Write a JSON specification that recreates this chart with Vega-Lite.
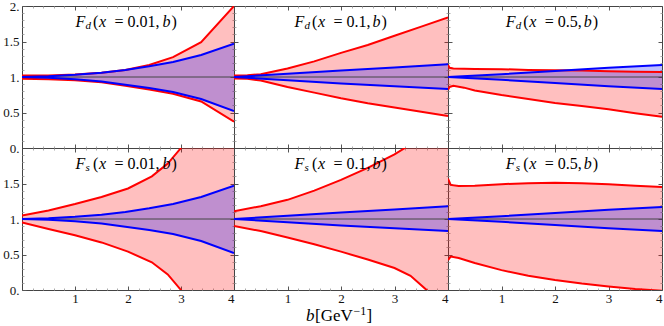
{
"$schema":"https://vega.github.io/schema/vega-lite/v6.json",
"padding":{"left":2,"top":0,"right":0,"bottom":0},
"background":"white",
"config":{"view":{"stroke":null},"axis":{"grid":false,"domainColor":"#444","domainWidth":1,"tickColor":"#555","tickWidth":1,"labelFont":"Liberation Serif","labelFontSize":13,"labelColor":"#111"},"text":{"font":"Liberation Serif","color":"#000"}},
"datasets":{"bands":[
{"p":"d1","band":"red","b":0,"lo":0.975,"hi":1.02},{"p":"d1","band":"red","b":0.5,"lo":0.97,"hi":1.022},{"p":"d1","band":"red","b":1,"lo":0.955,"hi":1.035},{"p":"d1","band":"red","b":1.5,"lo":0.925,"hi":1.06},{"p":"d1","band":"red","b":1.95,"lo":0.875,"hi":1.1},{"p":"d1","band":"red","b":2.4,"lo":0.825,"hi":1.17},{"p":"d1","band":"red","b":2.85,"lo":0.765,"hi":1.28},{"p":"d1","band":"red","b":3.38,"lo":0.655,"hi":1.49},{"p":"d1","band":"red","b":4,"lo":0.37,"hi":2.0},
{"p":"d1","band":"blue","b":0,"lo":1,"hi":1},{"p":"d1","band":"blue","b":0.5,"lo":0.99,"hi":1.01},{"p":"d1","band":"blue","b":1,"lo":0.97,"hi":1.03},{"p":"d1","band":"blue","b":1.5,"lo":0.935,"hi":1.06},{"p":"d1","band":"blue","b":1.95,"lo":0.89,"hi":1.1},{"p":"d1","band":"blue","b":2.4,"lo":0.845,"hi":1.15},{"p":"d1","band":"blue","b":2.85,"lo":0.79,"hi":1.21},{"p":"d1","band":"blue","b":3.38,"lo":0.69,"hi":1.31},{"p":"d1","band":"blue","b":4,"lo":0.52,"hi":1.47},
{"p":"d2","band":"red","b":0,"lo":0.98,"hi":1.02},{"p":"d2","band":"red","b":0.25,"lo":0.975,"hi":1.025},{"p":"d2","band":"red","b":0.5,"lo":0.95,"hi":1.04},{"p":"d2","band":"red","b":1,"lo":0.86,"hi":1.12},{"p":"d2","band":"red","b":1.5,"lo":0.78,"hi":1.22},{"p":"d2","band":"red","b":2,"lo":0.7,"hi":1.34},{"p":"d2","band":"red","b":2.5,"lo":0.63,"hi":1.45},{"p":"d2","band":"red","b":3,"lo":0.57,"hi":1.58},{"p":"d2","band":"red","b":3.5,"lo":0.51,"hi":1.71},{"p":"d2","band":"red","b":4,"lo":0.45,"hi":1.84},
{"p":"d2","band":"blue","b":0,"lo":1,"hi":1},{"p":"d2","band":"blue","b":1,"lo":0.955,"hi":1.045},{"p":"d2","band":"blue","b":2,"lo":0.91,"hi":1.09},{"p":"d2","band":"blue","b":3,"lo":0.87,"hi":1.135},{"p":"d2","band":"blue","b":4,"lo":0.83,"hi":1.18},
{"p":"d3","band":"red","b":0,"lo":0.82,"hi":1.17},{"p":"d3","band":"red","b":0.03,"lo":0.86,"hi":1.13},{"p":"d3","band":"red","b":0.1,"lo":0.875,"hi":1.12},{"p":"d3","band":"red","b":0.3,"lo":0.85,"hi":1.115},{"p":"d3","band":"red","b":0.5,"lo":0.81,"hi":1.113},{"p":"d3","band":"red","b":1,"lo":0.745,"hi":1.11},{"p":"d3","band":"red","b":1.5,"lo":0.69,"hi":1.1},{"p":"d3","band":"red","b":2,"lo":0.635,"hi":1.095},{"p":"d3","band":"red","b":2.5,"lo":0.59,"hi":1.09},{"p":"d3","band":"red","b":3,"lo":0.545,"hi":1.08},{"p":"d3","band":"red","b":3.5,"lo":0.49,"hi":1.075},{"p":"d3","band":"red","b":4,"lo":0.44,"hi":1.07},
{"p":"d3","band":"blue","b":0,"lo":1,"hi":1},{"p":"d3","band":"blue","b":1,"lo":0.96,"hi":1.04},{"p":"d3","band":"blue","b":2,"lo":0.915,"hi":1.085},{"p":"d3","band":"blue","b":3,"lo":0.87,"hi":1.13},{"p":"d3","band":"blue","b":4,"lo":0.83,"hi":1.17},
{"p":"s1","band":"red","b":0,"lo":0.95,"hi":1.05},{"p":"s1","band":"red","b":0.5,"lo":0.86,"hi":1.12},{"p":"s1","band":"red","b":1,"lo":0.77,"hi":1.21},{"p":"s1","band":"red","b":1.5,"lo":0.67,"hi":1.31},{"p":"s1","band":"red","b":2,"lo":0.54,"hi":1.43},{"p":"s1","band":"red","b":2.45,"lo":0.39,"hi":1.6},{"p":"s1","band":"red","b":2.75,"lo":0.22,"hi":1.78},{"p":"s1","band":"red","b":3,"lo":0,"hi":2.0},{"p":"s1","band":"red","b":3.5,"lo":-0.5,"hi":2.5},{"p":"s1","band":"red","b":4,"lo":-1,"hi":3},
{"p":"s1","band":"blue","b":0,"lo":1,"hi":1},{"p":"s1","band":"blue","b":0.5,"lo":0.99,"hi":1.01},{"p":"s1","band":"blue","b":1,"lo":0.97,"hi":1.03},{"p":"s1","band":"blue","b":1.5,"lo":0.935,"hi":1.06},{"p":"s1","band":"blue","b":1.95,"lo":0.89,"hi":1.1},{"p":"s1","band":"blue","b":2.4,"lo":0.845,"hi":1.15},{"p":"s1","band":"blue","b":2.85,"lo":0.79,"hi":1.21},{"p":"s1","band":"blue","b":3.38,"lo":0.69,"hi":1.31},{"p":"s1","band":"blue","b":4,"lo":0.52,"hi":1.47},
{"p":"s2","band":"red","b":0,"lo":0.9,"hi":1.11},{"p":"s2","band":"red","b":0.5,"lo":0.83,"hi":1.18},{"p":"s2","band":"red","b":1,"lo":0.74,"hi":1.27},{"p":"s2","band":"red","b":1.5,"lo":0.645,"hi":1.4},{"p":"s2","band":"red","b":2,"lo":0.54,"hi":1.55},{"p":"s2","band":"red","b":2.5,"lo":0.43,"hi":1.72},{"p":"s2","band":"red","b":3,"lo":0.31,"hi":1.91},{"p":"s2","band":"red","b":3.3,"lo":0.2,"hi":2.05},{"p":"s2","band":"red","b":3.6,"lo":0,"hi":2.2},{"p":"s2","band":"red","b":4,"lo":-0.35,"hi":2.4},
{"p":"s2","band":"blue","b":0,"lo":1,"hi":1},{"p":"s2","band":"blue","b":1,"lo":0.955,"hi":1.045},{"p":"s2","band":"blue","b":2,"lo":0.91,"hi":1.09},{"p":"s2","band":"blue","b":3,"lo":0.87,"hi":1.135},{"p":"s2","band":"blue","b":4,"lo":0.83,"hi":1.18},
{"p":"s3","band":"red","b":0,"lo":0.42,"hi":1.57},{"p":"s3","band":"red","b":0.05,"lo":0.47,"hi":1.48},{"p":"s3","band":"red","b":0.2,"lo":0.45,"hi":1.465},{"p":"s3","band":"red","b":0.5,"lo":0.38,"hi":1.47},{"p":"s3","band":"red","b":1,"lo":0.28,"hi":1.49},{"p":"s3","band":"red","b":1.5,"lo":0.2,"hi":1.505},{"p":"s3","band":"red","b":2,"lo":0.14,"hi":1.51},{"p":"s3","band":"red","b":2.5,"lo":0.09,"hi":1.505},{"p":"s3","band":"red","b":3,"lo":0.05,"hi":1.49},{"p":"s3","band":"red","b":3.5,"lo":0.015,"hi":1.47},{"p":"s3","band":"red","b":4,"lo":-0.01,"hi":1.45},
{"p":"s3","band":"blue","b":0,"lo":1,"hi":1},{"p":"s3","band":"blue","b":1,"lo":0.96,"hi":1.04},{"p":"s3","band":"blue","b":2,"lo":0.915,"hi":1.085},{"p":"s3","band":"blue","b":3,"lo":0.87,"hi":1.13},{"p":"s3","band":"blue","b":4,"lo":0.83,"hi":1.17}
]},
"columns":3,
"spacing":0,
"bounds":"flush",
"concat":[
{"width":212,"height":142,"data":{"name":"bands"},"transform":[{"filter":"datum.p == 'd1'"}],"resolve":{"axis":{"x":"independent","y":"independent"}},
"layer":[
{"transform":[{"filter":"datum.band == 'red'"}],"mark":{"type":"area","color":"#ff0000","opacity":0.25,"clip":true},"encoding":{"x":{"field":"b","type":"quantitative","scale":{"domain":[0,4]},"axis":{"orient":"bottom","values":[1,2,3,4],"tickSize":-4,"labels":false,"title":null}},"y":{"field":"lo","type":"quantitative","scale":{"domain":[0,2]},"axis":{"orient":"left","values":[0,0.5,1,1.5,2],"tickSize":-4,"labelPadding":7,"labelExpr":"datum.value % 1 == 0 ? datum.value + '.' : datum.label","title":null}},"y2":{"field":"hi"}}},
{"transform":[{"filter":"datum.band == 'blue'"}],"mark":{"type":"area","color":"#0000ff","opacity":0.25,"clip":true},"encoding":{"x":{"field":"b","type":"quantitative","axis":{"orient":"top","values":[1,2,3,4],"tickSize":-4,"labels":false,"title":null}},"y":{"field":"lo","type":"quantitative","axis":{"orient":"right","values":[0.5,1,1.5],"tickSize":-4,"labels":false,"title":null}},"y2":{"field":"hi"}}},
{"data":{"values":[{"v":1}]},"mark":{"type":"rule","color":"#444","strokeWidth":1},"encoding":{"y":{"field":"v","type":"quantitative","axis":null}}},
{"transform":[{"filter":"datum.band == 'red'"}],"mark":{"type":"line","color":"#ff0000","strokeWidth":2,"clip":true},"encoding":{"x":{"field":"b","type":"quantitative","axis":{"orient":"bottom","values":[0.2,0.4,0.6,0.8,1.2,1.4,1.6,1.8,2.2,2.4,2.6,2.8,3.2,3.4,3.6,3.8],"tickSize":-2,"labels":false,"domain":false,"tickColor":"#aaa","title":null}},"y":{"field":"lo","type":"quantitative","axis":{"orient":"left","values":[0.1,0.2,0.3,0.4,0.6,0.7,0.8,0.9,1.1,1.2,1.3,1.4,1.6,1.7,1.8,1.9],"tickSize":-2,"labels":false,"domain":false,"tickColor":"#aaa","title":null}}}},
{"transform":[{"filter":"datum.band == 'red'"}],"mark":{"type":"line","color":"#ff0000","strokeWidth":2,"clip":true},"encoding":{"x":{"field":"b","type":"quantitative","axis":{"orient":"top","values":[0.2,0.4,0.6,0.8,1.2,1.4,1.6,1.8,2.2,2.4,2.6,2.8,3.2,3.4,3.6,3.8],"tickSize":-2,"labels":false,"domain":false,"tickColor":"#aaa","title":null}},"y":{"field":"hi","type":"quantitative","axis":{"orient":"right","values":[0.1,0.2,0.3,0.4,0.6,0.7,0.8,0.9,1.1,1.2,1.3,1.4,1.6,1.7,1.8,1.9],"tickSize":-2,"labels":false,"domain":false,"tickColor":"#aaa","title":null}}}},
{"transform":[{"filter":"datum.band == 'blue'"}],"mark":{"type":"line","color":"#0000ff","strokeWidth":2,"clip":true},"encoding":{"x":{"field":"b","type":"quantitative","axis":null},"y":{"field":"lo","type":"quantitative","axis":null}}},
{"transform":[{"filter":"datum.band == 'blue'"}],"mark":{"type":"line","color":"#0000ff","strokeWidth":2,"clip":true},"encoding":{"x":{"field":"b","type":"quantitative","axis":null},"y":{"field":"hi","type":"quantitative","axis":null}}},
{"data":{"values":[{}]},"mark":{"type":"text","text":"F","fontSize":16,"fontStyle":"italic","align":"left","baseline":"alphabetic"},"encoding":{"x":{"datum":1.01,"type":"quantitative","axis":null},"y":{"datum":1.71,"type":"quantitative","axis":null}}},
{"data":{"values":[{}]},"mark":{"type":"text","text":"d","fontSize":11,"fontStyle":"italic","align":"left","baseline":"alphabetic","dx":10,"dy":2.5},"encoding":{"x":{"datum":1.01,"type":"quantitative","axis":null},"y":{"datum":1.71,"type":"quantitative","axis":null}}},
{"data":{"values":[{}]},"mark":{"type":"text","text":"(","fontSize":16,"align":"left","baseline":"alphabetic","dx":17.5},"encoding":{"x":{"datum":1.01,"type":"quantitative","axis":null},"y":{"datum":1.71,"type":"quantitative","axis":null}}},
{"data":{"values":[{}]},"mark":{"type":"text","text":"x","fontSize":16,"fontStyle":"italic","align":"left","baseline":"alphabetic","dx":23.5},"encoding":{"x":{"datum":1.01,"type":"quantitative","axis":null},"y":{"datum":1.71,"type":"quantitative","axis":null}}},
{"data":{"values":[{}]},"mark":{"type":"text","text":"= 0.01,","fontSize":16,"align":"left","baseline":"alphabetic","dx":39},"encoding":{"x":{"datum":1.01,"type":"quantitative","axis":null},"y":{"datum":1.71,"type":"quantitative","axis":null}}},
{"data":{"values":[{}]},"mark":{"type":"text","text":"b","fontSize":16,"fontStyle":"italic","align":"left","baseline":"alphabetic","dx":87},"encoding":{"x":{"datum":1.01,"type":"quantitative","axis":null},"y":{"datum":1.71,"type":"quantitative","axis":null}}},
{"data":{"values":[{}]},"mark":{"type":"text","text":")","fontSize":16,"align":"left","baseline":"alphabetic","dx":96},"encoding":{"x":{"datum":1.01,"type":"quantitative","axis":null},"y":{"datum":1.71,"type":"quantitative","axis":null}}}
]},
{"width":214,"height":142,"data":{"name":"bands"},"transform":[{"filter":"datum.p == 'd2'"}],"resolve":{"axis":{"x":"independent","y":"independent"}},
"layer":[
{"transform":[{"filter":"datum.band == 'red'"}],"mark":{"type":"area","color":"#ff0000","opacity":0.25,"clip":true},"encoding":{"x":{"field":"b","type":"quantitative","scale":{"domain":[0,4]},"axis":{"orient":"bottom","values":[1,2,3,4],"tickSize":-4,"labels":false,"title":null}},"y":{"field":"lo","type":"quantitative","scale":{"domain":[0,2]},"axis":{"orient":"left","values":[0.5,1,1.5],"tickSize":-4,"labels":false,"title":null}},"y2":{"field":"hi"}}},
{"transform":[{"filter":"datum.band == 'blue'"}],"mark":{"type":"area","color":"#0000ff","opacity":0.25,"clip":true},"encoding":{"x":{"field":"b","type":"quantitative","axis":{"orient":"top","values":[1,2,3,4],"tickSize":-4,"labels":false,"title":null}},"y":{"field":"lo","type":"quantitative","axis":{"orient":"right","values":[0.5,1,1.5],"tickSize":-4,"labels":false,"title":null}},"y2":{"field":"hi"}}},
{"data":{"values":[{"v":1}]},"mark":{"type":"rule","color":"#444","strokeWidth":1},"encoding":{"y":{"field":"v","type":"quantitative","axis":null}}},
{"transform":[{"filter":"datum.band == 'red'"}],"mark":{"type":"line","color":"#ff0000","strokeWidth":2,"clip":true},"encoding":{"x":{"field":"b","type":"quantitative","axis":{"orient":"bottom","values":[0.2,0.4,0.6,0.8,1.2,1.4,1.6,1.8,2.2,2.4,2.6,2.8,3.2,3.4,3.6,3.8],"tickSize":-2,"labels":false,"domain":false,"tickColor":"#aaa","title":null}},"y":{"field":"lo","type":"quantitative","axis":{"orient":"left","values":[0.1,0.2,0.3,0.4,0.6,0.7,0.8,0.9,1.1,1.2,1.3,1.4,1.6,1.7,1.8,1.9],"tickSize":-2,"labels":false,"domain":false,"tickColor":"#aaa","title":null}}}},
{"transform":[{"filter":"datum.band == 'red'"}],"mark":{"type":"line","color":"#ff0000","strokeWidth":2,"clip":true},"encoding":{"x":{"field":"b","type":"quantitative","axis":{"orient":"top","values":[0.2,0.4,0.6,0.8,1.2,1.4,1.6,1.8,2.2,2.4,2.6,2.8,3.2,3.4,3.6,3.8],"tickSize":-2,"labels":false,"domain":false,"tickColor":"#aaa","title":null}},"y":{"field":"hi","type":"quantitative","axis":{"orient":"right","values":[0.1,0.2,0.3,0.4,0.6,0.7,0.8,0.9,1.1,1.2,1.3,1.4,1.6,1.7,1.8,1.9],"tickSize":-2,"labels":false,"domain":false,"tickColor":"#aaa","title":null}}}},
{"transform":[{"filter":"datum.band == 'blue'"}],"mark":{"type":"line","color":"#0000ff","strokeWidth":2,"clip":true},"encoding":{"x":{"field":"b","type":"quantitative","axis":null},"y":{"field":"lo","type":"quantitative","axis":null}}},
{"transform":[{"filter":"datum.band == 'blue'"}],"mark":{"type":"line","color":"#0000ff","strokeWidth":2,"clip":true},"encoding":{"x":{"field":"b","type":"quantitative","axis":null},"y":{"field":"hi","type":"quantitative","axis":null}}},
{"data":{"values":[{}]},"mark":{"type":"text","text":"F","fontSize":16,"fontStyle":"italic","align":"left","baseline":"alphabetic"},"encoding":{"x":{"datum":1.13,"type":"quantitative","axis":null},"y":{"datum":1.71,"type":"quantitative","axis":null}}},
{"data":{"values":[{}]},"mark":{"type":"text","text":"d","fontSize":11,"fontStyle":"italic","align":"left","baseline":"alphabetic","dx":10,"dy":2.5},"encoding":{"x":{"datum":1.13,"type":"quantitative","axis":null},"y":{"datum":1.71,"type":"quantitative","axis":null}}},
{"data":{"values":[{}]},"mark":{"type":"text","text":"(","fontSize":16,"align":"left","baseline":"alphabetic","dx":17.5},"encoding":{"x":{"datum":1.13,"type":"quantitative","axis":null},"y":{"datum":1.71,"type":"quantitative","axis":null}}},
{"data":{"values":[{}]},"mark":{"type":"text","text":"x","fontSize":16,"fontStyle":"italic","align":"left","baseline":"alphabetic","dx":23.5},"encoding":{"x":{"datum":1.13,"type":"quantitative","axis":null},"y":{"datum":1.71,"type":"quantitative","axis":null}}},
{"data":{"values":[{}]},"mark":{"type":"text","text":"= 0.1,","fontSize":16,"align":"left","baseline":"alphabetic","dx":39},"encoding":{"x":{"datum":1.13,"type":"quantitative","axis":null},"y":{"datum":1.71,"type":"quantitative","axis":null}}},
{"data":{"values":[{}]},"mark":{"type":"text","text":"b","fontSize":16,"fontStyle":"italic","align":"left","baseline":"alphabetic","dx":78},"encoding":{"x":{"datum":1.13,"type":"quantitative","axis":null},"y":{"datum":1.71,"type":"quantitative","axis":null}}},
{"data":{"values":[{}]},"mark":{"type":"text","text":")","fontSize":16,"align":"left","baseline":"alphabetic","dx":87},"encoding":{"x":{"datum":1.13,"type":"quantitative","axis":null},"y":{"datum":1.71,"type":"quantitative","axis":null}}}
]},
{"width":214,"height":142,"data":{"name":"bands"},"transform":[{"filter":"datum.p == 'd3'"}],"resolve":{"axis":{"x":"independent","y":"independent"}},
"layer":[
{"transform":[{"filter":"datum.band == 'red'"}],"mark":{"type":"area","color":"#ff0000","opacity":0.25,"clip":true},"encoding":{"x":{"field":"b","type":"quantitative","scale":{"domain":[0,4]},"axis":{"orient":"bottom","values":[1,2,3,4],"tickSize":-4,"labels":false,"title":null}},"y":{"field":"lo","type":"quantitative","scale":{"domain":[0,2]},"axis":{"orient":"left","values":[0.5,1,1.5],"tickSize":-4,"labels":false,"title":null}},"y2":{"field":"hi"}}},
{"transform":[{"filter":"datum.band == 'blue'"}],"mark":{"type":"area","color":"#0000ff","opacity":0.25,"clip":true},"encoding":{"x":{"field":"b","type":"quantitative","axis":{"orient":"top","values":[1,2,3,4],"tickSize":-4,"labels":false,"title":null}},"y":{"field":"lo","type":"quantitative","axis":{"orient":"right","values":[0.5,1,1.5],"tickSize":-4,"labels":false,"title":null}},"y2":{"field":"hi"}}},
{"data":{"values":[{"v":1}]},"mark":{"type":"rule","color":"#444","strokeWidth":1},"encoding":{"y":{"field":"v","type":"quantitative","axis":null}}},
{"transform":[{"filter":"datum.band == 'red'"}],"mark":{"type":"line","color":"#ff0000","strokeWidth":2,"clip":true},"encoding":{"x":{"field":"b","type":"quantitative","axis":{"orient":"bottom","values":[0.2,0.4,0.6,0.8,1.2,1.4,1.6,1.8,2.2,2.4,2.6,2.8,3.2,3.4,3.6,3.8],"tickSize":-2,"labels":false,"domain":false,"tickColor":"#aaa","title":null}},"y":{"field":"lo","type":"quantitative","axis":{"orient":"left","values":[0.1,0.2,0.3,0.4,0.6,0.7,0.8,0.9,1.1,1.2,1.3,1.4,1.6,1.7,1.8,1.9],"tickSize":-2,"labels":false,"domain":false,"tickColor":"#aaa","title":null}}}},
{"transform":[{"filter":"datum.band == 'red'"}],"mark":{"type":"line","color":"#ff0000","strokeWidth":2,"clip":true},"encoding":{"x":{"field":"b","type":"quantitative","axis":{"orient":"top","values":[0.2,0.4,0.6,0.8,1.2,1.4,1.6,1.8,2.2,2.4,2.6,2.8,3.2,3.4,3.6,3.8],"tickSize":-2,"labels":false,"domain":false,"tickColor":"#aaa","title":null}},"y":{"field":"hi","type":"quantitative","axis":{"orient":"right","values":[0.1,0.2,0.3,0.4,0.6,0.7,0.8,0.9,1.1,1.2,1.3,1.4,1.6,1.7,1.8,1.9],"tickSize":-2,"labels":false,"domain":false,"tickColor":"#aaa","title":null}}}},
{"transform":[{"filter":"datum.band == 'blue'"}],"mark":{"type":"line","color":"#0000ff","strokeWidth":2,"clip":true},"encoding":{"x":{"field":"b","type":"quantitative","axis":null},"y":{"field":"lo","type":"quantitative","axis":null}}},
{"transform":[{"filter":"datum.band == 'blue'"}],"mark":{"type":"line","color":"#0000ff","strokeWidth":2,"clip":true},"encoding":{"x":{"field":"b","type":"quantitative","axis":null},"y":{"field":"hi","type":"quantitative","axis":null}}},
{"data":{"values":[{}]},"mark":{"type":"text","text":"F","fontSize":16,"fontStyle":"italic","align":"left","baseline":"alphabetic"},"encoding":{"x":{"datum":1.08,"type":"quantitative","axis":null},"y":{"datum":1.71,"type":"quantitative","axis":null}}},
{"data":{"values":[{}]},"mark":{"type":"text","text":"d","fontSize":11,"fontStyle":"italic","align":"left","baseline":"alphabetic","dx":10,"dy":2.5},"encoding":{"x":{"datum":1.08,"type":"quantitative","axis":null},"y":{"datum":1.71,"type":"quantitative","axis":null}}},
{"data":{"values":[{}]},"mark":{"type":"text","text":"(","fontSize":16,"align":"left","baseline":"alphabetic","dx":17.5},"encoding":{"x":{"datum":1.08,"type":"quantitative","axis":null},"y":{"datum":1.71,"type":"quantitative","axis":null}}},
{"data":{"values":[{}]},"mark":{"type":"text","text":"x","fontSize":16,"fontStyle":"italic","align":"left","baseline":"alphabetic","dx":23.5},"encoding":{"x":{"datum":1.08,"type":"quantitative","axis":null},"y":{"datum":1.71,"type":"quantitative","axis":null}}},
{"data":{"values":[{}]},"mark":{"type":"text","text":"= 0.5,","fontSize":16,"align":"left","baseline":"alphabetic","dx":39},"encoding":{"x":{"datum":1.08,"type":"quantitative","axis":null},"y":{"datum":1.71,"type":"quantitative","axis":null}}},
{"data":{"values":[{}]},"mark":{"type":"text","text":"b","fontSize":16,"fontStyle":"italic","align":"left","baseline":"alphabetic","dx":78},"encoding":{"x":{"datum":1.08,"type":"quantitative","axis":null},"y":{"datum":1.71,"type":"quantitative","axis":null}}},
{"data":{"values":[{}]},"mark":{"type":"text","text":")","fontSize":16,"align":"left","baseline":"alphabetic","dx":87},"encoding":{"x":{"datum":1.08,"type":"quantitative","axis":null},"y":{"datum":1.71,"type":"quantitative","axis":null}}}
]},
{"width":212,"height":142,"data":{"name":"bands"},"transform":[{"filter":"datum.p == 's1'"}],"resolve":{"axis":{"x":"independent","y":"independent"}},
"layer":[
{"transform":[{"filter":"datum.band == 'red'"}],"mark":{"type":"area","color":"#ff0000","opacity":0.25,"clip":true},"encoding":{"x":{"field":"b","type":"quantitative","scale":{"domain":[0,4]},"axis":{"orient":"bottom","values":[1,2,3,4],"tickSize":-4,"labelPadding":6,"title":null}},"y":{"field":"lo","type":"quantitative","scale":{"domain":[0,2]},"axis":{"orient":"left","values":[0,0.5,1,1.5],"tickSize":-4,"labelPadding":7,"labelExpr":"datum.value % 1 == 0 ? datum.value + '.' : datum.label","title":null}},"y2":{"field":"hi"}}},
{"transform":[{"filter":"datum.band == 'blue'"}],"mark":{"type":"area","color":"#0000ff","opacity":0.25,"clip":true},"encoding":{"x":{"field":"b","type":"quantitative","axis":{"orient":"top","values":[1,2,3,4],"tickSize":-4,"labels":false,"title":null}},"y":{"field":"lo","type":"quantitative","axis":{"orient":"right","values":[0.5,1,1.5],"tickSize":-4,"labels":false,"title":null}},"y2":{"field":"hi"}}},
{"data":{"values":[{"v":1}]},"mark":{"type":"rule","color":"#444","strokeWidth":1},"encoding":{"y":{"field":"v","type":"quantitative","axis":null}}},
{"transform":[{"filter":"datum.band == 'red'"}],"mark":{"type":"line","color":"#ff0000","strokeWidth":2,"clip":true},"encoding":{"x":{"field":"b","type":"quantitative","axis":{"orient":"bottom","values":[0.2,0.4,0.6,0.8,1.2,1.4,1.6,1.8,2.2,2.4,2.6,2.8,3.2,3.4,3.6,3.8],"tickSize":-2,"labels":false,"domain":false,"tickColor":"#aaa","title":null}},"y":{"field":"lo","type":"quantitative","axis":{"orient":"left","values":[0.1,0.2,0.3,0.4,0.6,0.7,0.8,0.9,1.1,1.2,1.3,1.4,1.6,1.7,1.8,1.9],"tickSize":-2,"labels":false,"domain":false,"tickColor":"#aaa","title":null}}}},
{"transform":[{"filter":"datum.band == 'red'"}],"mark":{"type":"line","color":"#ff0000","strokeWidth":2,"clip":true},"encoding":{"x":{"field":"b","type":"quantitative","axis":{"orient":"top","values":[0.2,0.4,0.6,0.8,1.2,1.4,1.6,1.8,2.2,2.4,2.6,2.8,3.2,3.4,3.6,3.8],"tickSize":-2,"labels":false,"domain":false,"tickColor":"#aaa","title":null}},"y":{"field":"hi","type":"quantitative","axis":{"orient":"right","values":[0.1,0.2,0.3,0.4,0.6,0.7,0.8,0.9,1.1,1.2,1.3,1.4,1.6,1.7,1.8,1.9],"tickSize":-2,"labels":false,"domain":false,"tickColor":"#aaa","title":null}}}},
{"transform":[{"filter":"datum.band == 'blue'"}],"mark":{"type":"line","color":"#0000ff","strokeWidth":2,"clip":true},"encoding":{"x":{"field":"b","type":"quantitative","axis":null},"y":{"field":"lo","type":"quantitative","axis":null}}},
{"transform":[{"filter":"datum.band == 'blue'"}],"mark":{"type":"line","color":"#0000ff","strokeWidth":2,"clip":true},"encoding":{"x":{"field":"b","type":"quantitative","axis":null},"y":{"field":"hi","type":"quantitative","axis":null}}},
{"data":{"values":[{}]},"mark":{"type":"text","text":"F","fontSize":16,"fontStyle":"italic","align":"left","baseline":"alphabetic"},"encoding":{"x":{"datum":1.01,"type":"quantitative","axis":null},"y":{"datum":1.71,"type":"quantitative","axis":null}}},
{"data":{"values":[{}]},"mark":{"type":"text","text":"s","fontSize":11,"fontStyle":"italic","align":"left","baseline":"alphabetic","dx":10,"dy":2.5},"encoding":{"x":{"datum":1.01,"type":"quantitative","axis":null},"y":{"datum":1.71,"type":"quantitative","axis":null}}},
{"data":{"values":[{}]},"mark":{"type":"text","text":"(","fontSize":16,"align":"left","baseline":"alphabetic","dx":17.5},"encoding":{"x":{"datum":1.01,"type":"quantitative","axis":null},"y":{"datum":1.71,"type":"quantitative","axis":null}}},
{"data":{"values":[{}]},"mark":{"type":"text","text":"x","fontSize":16,"fontStyle":"italic","align":"left","baseline":"alphabetic","dx":23.5},"encoding":{"x":{"datum":1.01,"type":"quantitative","axis":null},"y":{"datum":1.71,"type":"quantitative","axis":null}}},
{"data":{"values":[{}]},"mark":{"type":"text","text":"= 0.01,","fontSize":16,"align":"left","baseline":"alphabetic","dx":39},"encoding":{"x":{"datum":1.01,"type":"quantitative","axis":null},"y":{"datum":1.71,"type":"quantitative","axis":null}}},
{"data":{"values":[{}]},"mark":{"type":"text","text":"b","fontSize":16,"fontStyle":"italic","align":"left","baseline":"alphabetic","dx":87},"encoding":{"x":{"datum":1.01,"type":"quantitative","axis":null},"y":{"datum":1.71,"type":"quantitative","axis":null}}},
{"data":{"values":[{}]},"mark":{"type":"text","text":")","fontSize":16,"align":"left","baseline":"alphabetic","dx":96},"encoding":{"x":{"datum":1.01,"type":"quantitative","axis":null},"y":{"datum":1.71,"type":"quantitative","axis":null}}}
]},
{"width":214,"height":142,"data":{"name":"bands"},"transform":[{"filter":"datum.p == 's2'"}],"resolve":{"axis":{"x":"independent","y":"independent"}},
"layer":[
{"transform":[{"filter":"datum.band == 'red'"}],"mark":{"type":"area","color":"#ff0000","opacity":0.25,"clip":true},"encoding":{"x":{"field":"b","type":"quantitative","scale":{"domain":[0,4]},"axis":{"orient":"bottom","values":[1,2,3,4],"tickSize":-4,"labelPadding":6,"title":null}},"y":{"field":"lo","type":"quantitative","scale":{"domain":[0,2]},"axis":{"orient":"left","values":[0.5,1,1.5],"tickSize":-4,"labels":false,"title":null}},"y2":{"field":"hi"}}},
{"transform":[{"filter":"datum.band == 'blue'"}],"mark":{"type":"area","color":"#0000ff","opacity":0.25,"clip":true},"encoding":{"x":{"field":"b","type":"quantitative","axis":{"orient":"top","values":[1,2,3,4],"tickSize":-4,"labels":false,"title":null}},"y":{"field":"lo","type":"quantitative","axis":{"orient":"right","values":[0.5,1,1.5],"tickSize":-4,"labels":false,"title":null}},"y2":{"field":"hi"}}},
{"data":{"values":[{"v":1}]},"mark":{"type":"rule","color":"#444","strokeWidth":1},"encoding":{"y":{"field":"v","type":"quantitative","axis":null}}},
{"transform":[{"filter":"datum.band == 'red'"}],"mark":{"type":"line","color":"#ff0000","strokeWidth":2,"clip":true},"encoding":{"x":{"field":"b","type":"quantitative","axis":{"orient":"bottom","values":[0.2,0.4,0.6,0.8,1.2,1.4,1.6,1.8,2.2,2.4,2.6,2.8,3.2,3.4,3.6,3.8],"tickSize":-2,"labels":false,"domain":false,"tickColor":"#aaa","title":null}},"y":{"field":"lo","type":"quantitative","axis":{"orient":"left","values":[0.1,0.2,0.3,0.4,0.6,0.7,0.8,0.9,1.1,1.2,1.3,1.4,1.6,1.7,1.8,1.9],"tickSize":-2,"labels":false,"domain":false,"tickColor":"#aaa","title":null}}}},
{"transform":[{"filter":"datum.band == 'red'"}],"mark":{"type":"line","color":"#ff0000","strokeWidth":2,"clip":true},"encoding":{"x":{"field":"b","type":"quantitative","axis":{"orient":"top","values":[0.2,0.4,0.6,0.8,1.2,1.4,1.6,1.8,2.2,2.4,2.6,2.8,3.2,3.4,3.6,3.8],"tickSize":-2,"labels":false,"domain":false,"tickColor":"#aaa","title":null}},"y":{"field":"hi","type":"quantitative","axis":{"orient":"right","values":[0.1,0.2,0.3,0.4,0.6,0.7,0.8,0.9,1.1,1.2,1.3,1.4,1.6,1.7,1.8,1.9],"tickSize":-2,"labels":false,"domain":false,"tickColor":"#aaa","title":null}}}},
{"transform":[{"filter":"datum.band == 'blue'"}],"mark":{"type":"line","color":"#0000ff","strokeWidth":2,"clip":true},"encoding":{"x":{"field":"b","type":"quantitative","axis":null},"y":{"field":"lo","type":"quantitative","axis":null}}},
{"transform":[{"filter":"datum.band == 'blue'"}],"mark":{"type":"line","color":"#0000ff","strokeWidth":2,"clip":true},"encoding":{"x":{"field":"b","type":"quantitative","axis":null},"y":{"field":"hi","type":"quantitative","axis":null}}},
{"data":{"values":[{}]},"mark":{"type":"text","text":"F","fontSize":16,"fontStyle":"italic","align":"left","baseline":"alphabetic"},"encoding":{"x":{"datum":1.13,"type":"quantitative","axis":null},"y":{"datum":1.71,"type":"quantitative","axis":null}}},
{"data":{"values":[{}]},"mark":{"type":"text","text":"s","fontSize":11,"fontStyle":"italic","align":"left","baseline":"alphabetic","dx":10,"dy":2.5},"encoding":{"x":{"datum":1.13,"type":"quantitative","axis":null},"y":{"datum":1.71,"type":"quantitative","axis":null}}},
{"data":{"values":[{}]},"mark":{"type":"text","text":"(","fontSize":16,"align":"left","baseline":"alphabetic","dx":17.5},"encoding":{"x":{"datum":1.13,"type":"quantitative","axis":null},"y":{"datum":1.71,"type":"quantitative","axis":null}}},
{"data":{"values":[{}]},"mark":{"type":"text","text":"x","fontSize":16,"fontStyle":"italic","align":"left","baseline":"alphabetic","dx":23.5},"encoding":{"x":{"datum":1.13,"type":"quantitative","axis":null},"y":{"datum":1.71,"type":"quantitative","axis":null}}},
{"data":{"values":[{}]},"mark":{"type":"text","text":"= 0.1,","fontSize":16,"align":"left","baseline":"alphabetic","dx":39},"encoding":{"x":{"datum":1.13,"type":"quantitative","axis":null},"y":{"datum":1.71,"type":"quantitative","axis":null}}},
{"data":{"values":[{}]},"mark":{"type":"text","text":"b","fontSize":16,"fontStyle":"italic","align":"left","baseline":"alphabetic","dx":78},"encoding":{"x":{"datum":1.13,"type":"quantitative","axis":null},"y":{"datum":1.71,"type":"quantitative","axis":null}}},
{"data":{"values":[{}]},"mark":{"type":"text","text":")","fontSize":16,"align":"left","baseline":"alphabetic","dx":87},"encoding":{"x":{"datum":1.13,"type":"quantitative","axis":null},"y":{"datum":1.71,"type":"quantitative","axis":null}}},
{"data":{"values":[{}]},"mark":{"type":"text","text":"b","fontSize":17,"fontStyle":"italic","align":"left","baseline":"alphabetic","dx":-35},"encoding":{"x":{"datum":2,"type":"quantitative","axis":null},"y":{"datum":-0.435,"type":"quantitative","axis":null}}},
{"data":{"values":[{}]},"mark":{"type":"text","text":"[GeV","fontSize":17,"align":"left","baseline":"alphabetic","dx":-26},"encoding":{"x":{"datum":2,"type":"quantitative","axis":null},"y":{"datum":-0.435,"type":"quantitative","axis":null}}},
{"data":{"values":[{}]},"mark":{"type":"text","text":"−1","fontSize":12,"align":"left","baseline":"alphabetic","dx":12.5,"dy":-6},"encoding":{"x":{"datum":2,"type":"quantitative","axis":null},"y":{"datum":-0.435,"type":"quantitative","axis":null}}},
{"data":{"values":[{}]},"mark":{"type":"text","text":"]","fontSize":17,"align":"left","baseline":"alphabetic","dx":25.5},"encoding":{"x":{"datum":2,"type":"quantitative","axis":null},"y":{"datum":-0.435,"type":"quantitative","axis":null}}}
]},
{"width":214,"height":142,"data":{"name":"bands"},"transform":[{"filter":"datum.p == 's3'"}],"resolve":{"axis":{"x":"independent","y":"independent"}},
"layer":[
{"transform":[{"filter":"datum.band == 'red'"}],"mark":{"type":"area","color":"#ff0000","opacity":0.25,"clip":true},"encoding":{"x":{"field":"b","type":"quantitative","scale":{"domain":[0,4]},"axis":{"orient":"bottom","values":[1,2,3,4],"tickSize":-4,"labelPadding":6,"title":null}},"y":{"field":"lo","type":"quantitative","scale":{"domain":[0,2]},"axis":{"orient":"left","values":[0.5,1,1.5],"tickSize":-4,"labels":false,"title":null}},"y2":{"field":"hi"}}},
{"transform":[{"filter":"datum.band == 'blue'"}],"mark":{"type":"area","color":"#0000ff","opacity":0.25,"clip":true},"encoding":{"x":{"field":"b","type":"quantitative","axis":{"orient":"top","values":[1,2,3,4],"tickSize":-4,"labels":false,"title":null}},"y":{"field":"lo","type":"quantitative","axis":{"orient":"right","values":[0.5,1,1.5],"tickSize":-4,"labels":false,"title":null}},"y2":{"field":"hi"}}},
{"data":{"values":[{"v":1}]},"mark":{"type":"rule","color":"#444","strokeWidth":1},"encoding":{"y":{"field":"v","type":"quantitative","axis":null}}},
{"transform":[{"filter":"datum.band == 'red'"}],"mark":{"type":"line","color":"#ff0000","strokeWidth":2,"clip":true},"encoding":{"x":{"field":"b","type":"quantitative","axis":{"orient":"bottom","values":[0.2,0.4,0.6,0.8,1.2,1.4,1.6,1.8,2.2,2.4,2.6,2.8,3.2,3.4,3.6,3.8],"tickSize":-2,"labels":false,"domain":false,"tickColor":"#aaa","title":null}},"y":{"field":"lo","type":"quantitative","axis":{"orient":"left","values":[0.1,0.2,0.3,0.4,0.6,0.7,0.8,0.9,1.1,1.2,1.3,1.4,1.6,1.7,1.8,1.9],"tickSize":-2,"labels":false,"domain":false,"tickColor":"#aaa","title":null}}}},
{"transform":[{"filter":"datum.band == 'red'"}],"mark":{"type":"line","color":"#ff0000","strokeWidth":2,"clip":true},"encoding":{"x":{"field":"b","type":"quantitative","axis":{"orient":"top","values":[0.2,0.4,0.6,0.8,1.2,1.4,1.6,1.8,2.2,2.4,2.6,2.8,3.2,3.4,3.6,3.8],"tickSize":-2,"labels":false,"domain":false,"tickColor":"#aaa","title":null}},"y":{"field":"hi","type":"quantitative","axis":{"orient":"right","values":[0.1,0.2,0.3,0.4,0.6,0.7,0.8,0.9,1.1,1.2,1.3,1.4,1.6,1.7,1.8,1.9],"tickSize":-2,"labels":false,"domain":false,"tickColor":"#aaa","title":null}}}},
{"transform":[{"filter":"datum.band == 'blue'"}],"mark":{"type":"line","color":"#0000ff","strokeWidth":2,"clip":true},"encoding":{"x":{"field":"b","type":"quantitative","axis":null},"y":{"field":"lo","type":"quantitative","axis":null}}},
{"transform":[{"filter":"datum.band == 'blue'"}],"mark":{"type":"line","color":"#0000ff","strokeWidth":2,"clip":true},"encoding":{"x":{"field":"b","type":"quantitative","axis":null},"y":{"field":"hi","type":"quantitative","axis":null}}},
{"data":{"values":[{}]},"mark":{"type":"text","text":"F","fontSize":16,"fontStyle":"italic","align":"left","baseline":"alphabetic"},"encoding":{"x":{"datum":1.08,"type":"quantitative","axis":null},"y":{"datum":1.71,"type":"quantitative","axis":null}}},
{"data":{"values":[{}]},"mark":{"type":"text","text":"s","fontSize":11,"fontStyle":"italic","align":"left","baseline":"alphabetic","dx":10,"dy":2.5},"encoding":{"x":{"datum":1.08,"type":"quantitative","axis":null},"y":{"datum":1.71,"type":"quantitative","axis":null}}},
{"data":{"values":[{}]},"mark":{"type":"text","text":"(","fontSize":16,"align":"left","baseline":"alphabetic","dx":17.5},"encoding":{"x":{"datum":1.08,"type":"quantitative","axis":null},"y":{"datum":1.71,"type":"quantitative","axis":null}}},
{"data":{"values":[{}]},"mark":{"type":"text","text":"x","fontSize":16,"fontStyle":"italic","align":"left","baseline":"alphabetic","dx":23.5},"encoding":{"x":{"datum":1.08,"type":"quantitative","axis":null},"y":{"datum":1.71,"type":"quantitative","axis":null}}},
{"data":{"values":[{}]},"mark":{"type":"text","text":"= 0.5,","fontSize":16,"align":"left","baseline":"alphabetic","dx":39},"encoding":{"x":{"datum":1.08,"type":"quantitative","axis":null},"y":{"datum":1.71,"type":"quantitative","axis":null}}},
{"data":{"values":[{}]},"mark":{"type":"text","text":"b","fontSize":16,"fontStyle":"italic","align":"left","baseline":"alphabetic","dx":78},"encoding":{"x":{"datum":1.08,"type":"quantitative","axis":null},"y":{"datum":1.71,"type":"quantitative","axis":null}}},
{"data":{"values":[{}]},"mark":{"type":"text","text":")","fontSize":16,"align":"left","baseline":"alphabetic","dx":87},"encoding":{"x":{"datum":1.08,"type":"quantitative","axis":null},"y":{"datum":1.71,"type":"quantitative","axis":null}}}
]}
]
}
